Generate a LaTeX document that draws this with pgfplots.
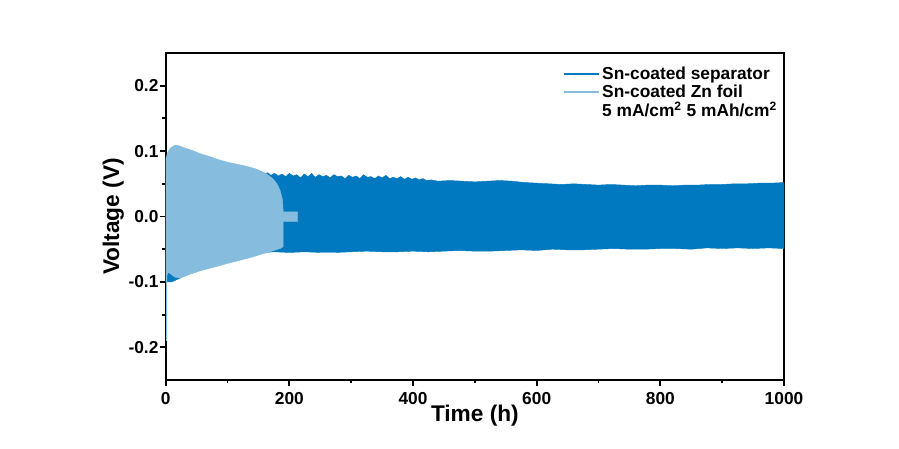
\documentclass[border=0pt]{standalone}
\usepackage{fontspec}
\setmainfont{Liberation Sans}
\usepackage{pgfplots}
\pgfplotsset{compat=1.18}
\definecolor{darkblue}{RGB}{0,121,192}
\definecolor{lightblue}{RGB}{134,188,222}
\begin{document}
\begin{tikzpicture}
\useasboundingbox (-124.3pt,-51.75pt) rectangle (549.95pt,285pt);
\begin{axis}[
  at={(0pt,0pt)}, anchor=south west,
  scale only axis, width=463.7pt, height=245.25pt,
  xmin=0, xmax=1000, ymin=-0.25, ymax=0.25,
  xtick={0,200,400,600,800,1000},
  ytick={-0.2,-0.1,0,0.1,0.2},
  minor tick num=1,
  tick pos=left, tick align=outside,
  major tick length=4.3pt, minor tick length=2.6pt,
  axis line style={line width=1.6pt},
  every tick/.style={black, line width=1.4pt},
  /pgf/number format/assume math mode=true,
  x tick label style={/pgf/number format/1000 sep={}, font=\fontsize{13}{15}\selectfont\bfseries, inner sep=1pt, yshift=-3.5pt},
  y tick label style={/pgf/number format/.cd, fixed, fixed zerofill, precision=1, /tikz/.cd, font=\fontsize{13}{15}\selectfont\bfseries, inner sep=1pt},
  xlabel={Time (h)}, ylabel={Voltage (V)},
  xlabel style={at={(axis description cs:0.5,0)}, anchor=base, yshift=-31.3pt, font=\fontsize{17}{20}\selectfont\bfseries},
  ylabel style={at={(axis description cs:0,0.5)}, anchor=base, yshift=35pt, font=\fontsize{17}{20}\selectfont\bfseries},
  legend cell align=left,
  legend style={at={(0.642,0.965)}, anchor=north west, draw=none, fill=none, inner xsep=0pt, inner ysep=0pt, row sep=0pt, nodes={inner ysep=1.3pt}, font=\fontsize{13}{15}\selectfont\bfseries},
  legend image code/.code={\draw[#1] (0cm,0cm) -- (0.92cm,0cm);},
]
% Sn-coated separator: envelope of the oscillation
\addplot[draw=darkblue, line width=0.3pt, fill=darkblue, forget plot] coordinates {
(0,0.09) (10,0.07) (100,0.066) (150,0.066)
(155,0.066) (160,0.064) (165,0.067) (170,0.063) (176,0.066) (182,0.062) (188,0.065) (194,0.061)
(200,0.066) (206,0.062) (212,0.064) (218,0.059) (224,0.065) (230,0.061) (236,0.066) (242,0.060)
(248,0.064) (254,0.061) (260,0.063) (266,0.059) (272,0.064) (278,0.061) (284,0.062) (290,0.058)
(296,0.063) (302,0.060) (308,0.062) (314,0.058) (320,0.064) (326,0.060) (332,0.061) (338,0.058)
(344,0.062) (350,0.059) (356,0.063) (362,0.058) (368,0.060) (374,0.058) (380,0.061) (386,0.057)
(392,0.060) (398,0.057) (404,0.059) (410,0.056) (416,0.058) (422,0.055) (430,0.056) (440,0.054)
(460,0.055) (480,0.054) (500,0.053) (520,0.054) (540,0.055) (560,0.054) (580,0.052) (600,0.051)
(620,0.050) (640,0.049) (660,0.050) (680,0.049) (700,0.048) (720,0.049) (740,0.048) (760,0.047)
(780,0.048) (800,0.048) (820,0.047) (840,0.048) (860,0.048) (880,0.049) (900,0.049) (920,0.050)
(940,0.050) (960,0.051) (980,0.051) (1000,0.052)
(1000,-0.049) (975,-0.048) (950,-0.049) (925,-0.048) (900,-0.049) (875,-0.048) (850,-0.050)
(825,-0.049) (800,-0.049) (775,-0.050) (750,-0.050) (725,-0.049) (700,-0.050) (675,-0.051)
(650,-0.051) (625,-0.050) (600,-0.052) (575,-0.051) (550,-0.052) (525,-0.053) (500,-0.053)
(475,-0.052) (450,-0.053) (425,-0.054) (400,-0.053) (375,-0.054) (350,-0.054) (325,-0.053)
(300,-0.054) (275,-0.055) (250,-0.055) (225,-0.054) (200,-0.055) (175,-0.054) (160,-0.055)
(100,-0.060) (10,-0.100) (0,-0.100)
} -- cycle;
% Sn-coated Zn foil: envelope of the oscillation
\addplot[draw=lightblue, line width=0.3pt, fill=lightblue, forget plot] coordinates {
(0.8,0.09) (3,0.098) (8,0.105) (15,0.109) (22,0.108) (30,0.105) (40,0.102) (56,0.096)
(70,0.092) (85,0.087) (100,0.083) (115,0.080) (130,0.077) (145,0.073) (155,0.069) (165,0.064)
(174,0.057) (180,0.050) (185,0.040) (189,0.025) (190,0.007) (213,0.007) (213,-0.008) (190,-0.008)
(190,-0.046) (185,-0.049) (175,-0.052) (165,-0.055) (153,-0.058) (140,-0.062) (120,-0.067)
(99,-0.072) (80,-0.077) (56,-0.083) (40,-0.088) (23,-0.094) (15,-0.093) (8,-0.088) (4,-0.085)
(2,-0.09) (1.6,-0.19) (0.8,-0.19)
} -- cycle;
\addlegendimage{darkblue, line width=1.3pt}
\addlegendentry{Sn-coated separator}
\addlegendimage{lightblue, line width=1.3pt}
\addlegendentry{Sn-coated Zn foil}
\addlegendimage{empty legend}
\addlegendentry{5 mA/cm\textsuperscript{2} 5 mAh/cm\textsuperscript{2}}
\end{axis}
\end{tikzpicture}
\end{document}
